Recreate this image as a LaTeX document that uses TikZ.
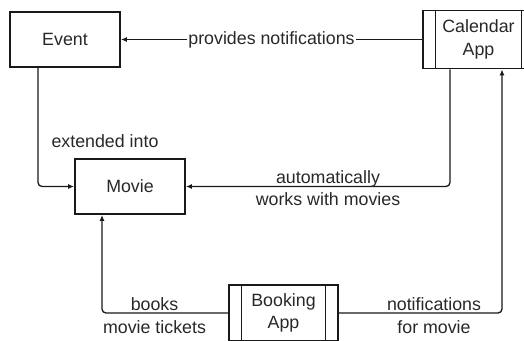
\documentclass[tikz,border=0pt]{standalone}
\usepackage{fontspec}
\setmainfont{Liberation Sans}
\usetikzlibrary{arrows.meta}
\definecolor{ink}{RGB}{25,25,25}
\definecolor{txt}{RGB}{40,40,40}
\begin{document}
\begin{tikzpicture}[x=1pt,y=-1pt,
  every node/.style={font=\fontsize{17.8}{22.5}\selectfont, text=txt},
  box/.style={draw=ink, line width=1.8pt, fill=white, inner sep=0pt, align=center},
  procbox/.style={box, path picture={
      \draw[ink, line width=1.4pt] ([xshift=12.5pt]path picture bounding box.north west) -- ([xshift=12.5pt]path picture bounding box.south west);
      \draw[ink, line width=1.4pt] ([xshift=-12.5pt]path picture bounding box.north east) -- ([xshift=-12.5pt]path picture bounding box.south east);}},
  arr/.style={draw=ink, line width=1.3pt, rounded corners=4pt, -{Latex[length=6pt,width=5pt]}},
  lbl/.style={align=center, inner sep=1pt}
]
\useasboundingbox (0,0) rectangle (524,340);
\clip (0,0) rectangle (524,340);
\node[box, minimum width=110pt, minimum height=55pt] (ev) at (65,39.5) {Event};
\node[box, minimum width=110pt, minimum height=55pt] (mv) at (130,186.5) {Movie};
\node[procbox, minimum width=111pt, minimum height=58pt] (cal) at (478.5,39.5) {Calendar\\App};
\node[procbox, minimum width=109pt, minimum height=56pt] (bk) at (283.5,313) {Booking\\App};

\draw[arr] (cal.west) -- (ev.east);
\draw[arr] ([xshift=-27pt]ev.south) |- (mv.west);
\draw[arr] ([xshift=-28.5pt]cal.south) |- (mv.east);
\draw[arr] (bk.west) -| ([xshift=-28pt]mv.south);
\draw[arr] (bk.east) -| ([xshift=23.5pt]cal.south);

\node[lbl, fill=white] (l1) at (271.5,40) {provides notifications};
\node[lbl] (l2) at (105,141) {extended into};
\node[lbl] (l3) at (328,188) {automatically\\works with movies};
\node[lbl] (l4) at (154.5,315.5) {books\\movie tickets};
\node[lbl] (l5) at (434,315.5) {notifications\\for movie};
\end{tikzpicture}
\end{document}
